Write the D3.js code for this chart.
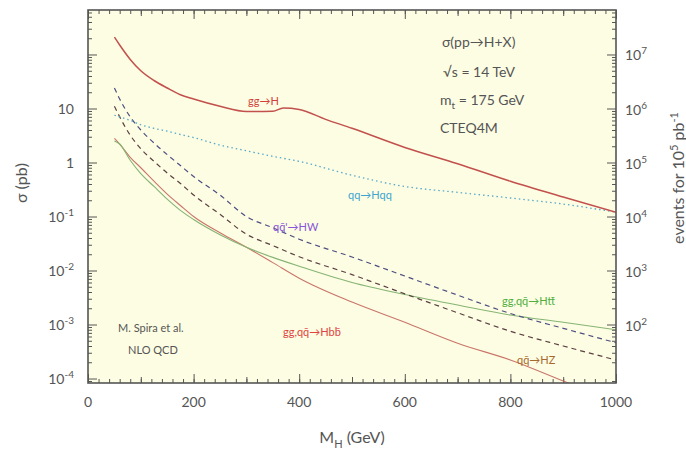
<!DOCTYPE html>
<html>
<head>
<meta charset="utf-8">
<script src="https://cdn.jsdelivr.net/npm/d3@7"></script>
<style>
  body { margin: 0; background: #fff; }
  svg text { font-family: Lato, "Open Sans", sans-serif; }
  .tick line { stroke: #555; stroke-width: 1; }
  .axis path.domain { display: none; }
</style>
</head>
<body>
<div id="chart"></div>
<script>
// Higgs production cross sections at the LHC
var massPts = [50, 60, 80, 100, 125, 150, 175, 200, 250, 300, 350, 370, 400, 450, 500, 600, 700, 800, 900, 1000];
var ggH   = [210, 150, 81, 50, 33, 24, 18, 15, 11, 8.8, 8.9, 10.2, 9.6, 6.3, 4.3, 1.9, 0.95, 0.45, 0.23, 0.12];

var massB = [50, 60, 80, 100, 125, 150, 175, 200, 250, 300, 350, 400, 500, 600, 700, 800, 900, 1000];
var qqHqq = [7.5, 7.0, 6.0, 5.0, 4.3, 3.8, 3.3, 2.9, 2.1, 1.65, 1.3, 1.05, 0.58, 0.36, 0.28, 0.22, 0.17, 0.12];
var qqHW  = [24, 15, 7.0, 4.0, 2.3, 1.4, 0.88, 0.55, 0.25, 0.1, 0.062, 0.038, 0.0178, 0.0079, 0.0035, 0.0016, 0.00085, 0.00046];
var qqHZ  = [11, 7, 3.2, 1.8, 1.05, 0.64, 0.41, 0.25, 0.11, 0.047, 0.029, 0.018, 0.0084, 0.0037, 0.00165, 0.00075, 0.0004, 0.00022];
var ggHtt = [2.5, 2.2, 1.1, 0.62, 0.36, 0.21, 0.13, 0.088, 0.046, 0.027, 0.0175, 0.012, 0.006, 0.0036, 0.0023, 0.0015, 0.0011, 0.0008];
var ggHbb = [2.8, 2.2, 1.25, 0.8, 0.45, 0.26, 0.16, 0.1, 0.05, 0.027, 0.014, 0.0072, 0.0026, 0.0011, 0.00045, 0.00022, 0.00009, 0.000038];

var xTicks = [0, 200, 400, 600, 800, 1000];
var yTickExp = [-4, -3, -2, -1, 0, 1, 2];
var yRightExp = [2, 3, 4, 5, 6, 7];
var lumi = 1e5; // events for 10^5 pb^-1

var series = [
  {name: "Hbb", values: ggHbb, x: massB, color: "#c9766a", width: 1.1, dash: null},
  {name: "Htt", values: ggHtt, x: massB, color: "#86b473", width: 1.1, dash: null},
  {name: "HZ",  values: qqHZ,  x: massB, color: "#5b4040", width: 1.2, dash: "5,4"},
  {name: "HW",  values: qqHW,  x: massB, color: "#4e4d80", width: 1.2, dash: "5,4"},
  {name: "Hqq", values: qqHqq, x: massB, color: "#58a9c9", width: 1.3, dash: "1.5,3"},
  {name: "ggH", values: ggH,   x: massPts, color: "#c2504c", width: 1.5, dash: null}
];

var labels = [
  {text: "gg→H",      x: 248, y: 105, color: "#d2403c"},
  {text: "qq→Hqq",    x: 348, y: 199, color: "#3ea5cf"},
  {text: "qq̄'→HW",   x: 273, y: 231, color: "#8a55d6"},
  {text: "gg,qq̄→Htt̄", x: 502, y: 305, color: "#4fae3e"},
  {text: "gg,qq̄→Hbb̄", x: 283, y: 336, color: "#e0443f"},
  {text: "qq̄→HZ",    x: 517, y: 364, color: "#a8692f"}
];

var outerWidth = 686, outerHeight = 455;
var margin = {top: 10, right: 70, bottom: 72, left: 88};
var width = outerWidth - margin.left - margin.right;
var height = outerHeight - margin.top - margin.bottom;

var x = d3.scaleLinear().domain([0, 1000]).range([0, width]);
var y = d3.scaleLog().domain([Math.pow(10, -4.083), Math.pow(10, 2.824)]).range([height, 0]);
var yR = d3.scaleLog().domain(y.domain().map(d => d * lumi)).range([height, 0]);

var svg = d3.select("#chart").append("svg")
  .attr("width", outerWidth)
  .attr("height", outerHeight);

var g = svg.append("g")
  .attr("transform", "translate(" + margin.left + "," + margin.top + ")");

g.append("defs").append("clipPath")
  .attr("id", "clip")
  .append("rect")
  .attr("width", width)
  .attr("height", height);

// plot background
g.append("rect")
  .attr("width", width)
  .attr("height", height)
  .attr("fill", "#fdfde4");

// minor/major tick values
var xMinor = d3.range(0, 1001, 20);
var xMid = d3.range(100, 1000, 200);
var yMinor = [];
for (let e = -5; e <= 3; e++) {
  for (let m = 2; m <= 9; m++) yMinor.push(m * Math.pow(10, e));
}
yMinor = yMinor.filter(v => v > y.domain()[0] && v < y.domain()[1]);
var yMajor = yTickExp.map(e => Math.pow(10, e));
var yRMajor = yRightExp.map(e => Math.pow(10, e));
var yRMinor = yMinor.map(v => v * lumi);

function addAxis(axis, tx, ty) {
  g.append("g")
    .attr("class", "axis")
    .attr("transform", "translate(" + tx + "," + ty + ")")
    .call(axis);
}

// ticks point inward on all four sides
addAxis(d3.axisBottom(x).tickValues(xMinor).tickSize(-4).tickFormat(""), 0, height);
addAxis(d3.axisBottom(x).tickValues(xMid).tickSize(-6).tickFormat(""), 0, height);
addAxis(d3.axisBottom(x).tickValues(xTicks).tickSize(-9).tickFormat(""), 0, height);
addAxis(d3.axisTop(x).tickValues(xMinor).tickSize(-4).tickFormat(""), 0, 0);
addAxis(d3.axisTop(x).tickValues(xMid).tickSize(-6).tickFormat(""), 0, 0);
addAxis(d3.axisTop(x).tickValues(xTicks).tickSize(-9).tickFormat(""), 0, 0);
addAxis(d3.axisLeft(y).tickValues(yMinor).tickSize(-4).tickFormat(""), 0, 0);
addAxis(d3.axisLeft(y).tickValues(yMajor).tickSize(-9).tickFormat(""), 0, 0);
addAxis(d3.axisRight(yR).tickValues(yRMinor).tickSize(-4).tickFormat(""), width, 0);
addAxis(d3.axisRight(yR).tickValues(yRMajor).tickSize(-9).tickFormat(""), width, 0);

// curves
var line = d3.line()
  .curve(d3.curveMonotoneX);

g.append("g")
  .attr("clip-path", "url(#clip)")
  .selectAll("path")
  .data(series)
  .join("path")
  .attr("fill", "none")
  .attr("stroke", d => d.color)
  .attr("stroke-width", d => d.width)
  .attr("stroke-dasharray", d => d.dash)
  .attr("d", d => line(d.values.map((v, i) => [x(d.x[i]), y(v)])));

// frame
g.append("rect")
  .attr("width", width)
  .attr("height", height)
  .attr("fill", "none")
  .attr("stroke", "#555")
  .attr("stroke-width", 1.6);

// x tick labels
g.append("g").selectAll("text")
  .data(xTicks)
  .join("text")
  .attr("x", d => x(d))
  .attr("y", height + 24)
  .attr("text-anchor", "middle")
  .attr("font-size", 14)
  .attr("fill", "#555")
  .text(d => d);

// left tick labels, powers of ten
function powLabel(sel, e) {
  if (e === 0) { sel.text("1"); return; }
  if (e === 1) { sel.text("10"); return; }
  sel.append("tspan").text("10");
  sel.append("tspan").attr("dy", -6).attr("font-size", 10).text(e);
}

g.append("g").selectAll("text")
  .data(yTickExp.filter(e => e <= 1))
  .join("text")
  .attr("x", -14)
  .attr("y", d => y(Math.pow(10, d)) + 5)
  .attr("text-anchor", "end")
  .attr("font-size", 14)
  .attr("fill", "#555")
  .each(function(d) { powLabel(d3.select(this), d); });

g.append("g").selectAll("text")
  .data(yRightExp)
  .join("text")
  .attr("x", width + 9)
  .attr("y", d => yR(Math.pow(10, d)) + 6)
  .attr("font-size", 14)
  .attr("fill", "#555")
  .each(function(d) { powLabel(d3.select(this), d); });

// axis titles
svg.append("text")
  .attr("transform", "translate(27,183) rotate(-90)")
  .attr("text-anchor", "middle")
  .attr("font-size", 16)
  .attr("fill", "#555")
  .text("σ (pb)");

var xt = svg.append("text")
  .attr("x", margin.left + x(500))
  .attr("y", 443)
  .attr("text-anchor", "middle")
  .attr("font-size", 16)
  .attr("fill", "#555");
xt.append("tspan").text("M");
xt.append("tspan").attr("dy", 5).attr("font-size", 11).text("H");
xt.append("tspan").attr("dy", -5).text(" (GeV)");

var rt = svg.append("text")
  .attr("transform", "translate(684,178) rotate(-90)")
  .attr("text-anchor", "middle")
  .attr("font-size", 16)
  .attr("fill", "#555");
rt.append("tspan").text("events for 10");
rt.append("tspan").attr("dy", -6).attr("font-size", 11).text("5");
rt.append("tspan").attr("dy", 6).text(" pb");
rt.append("tspan").attr("dy", -6).attr("font-size", 11).text("-1");

// process annotations
var note = svg.append("g").attr("font-size", 14).attr("fill", "#555");
note.append("text").attr("x", 442).attr("y", 47).text("σ(pp→H+X)");
note.append("text").attr("x", 443).attr("y", 77).text("√s = 14 TeV");
var mt = note.append("text").attr("x", 440).attr("y", 105);
mt.append("tspan").text("m");
mt.append("tspan").attr("dy", 4).attr("font-size", 10).text("t");
mt.append("tspan").attr("dy", -4).text(" = 175 GeV");
note.append("text").attr("x", 440).attr("y", 133).text("CTEQ4M");

var credit = svg.append("g").attr("font-size", 11).attr("fill", "#555");
credit.append("text").attr("x", 118).attr("y", 332).text("M. Spira et al.");
credit.append("text").attr("x", 128).attr("y", 354).text("NLO QCD");

svg.append("g").selectAll("text")
  .data(labels)
  .join("text")
  .attr("x", d => d.x)
  .attr("y", d => d.y)
  .attr("font-size", 11)
  .attr("fill", d => d.color)
  .text(d => d.text);
</script>
</body>
</html>
